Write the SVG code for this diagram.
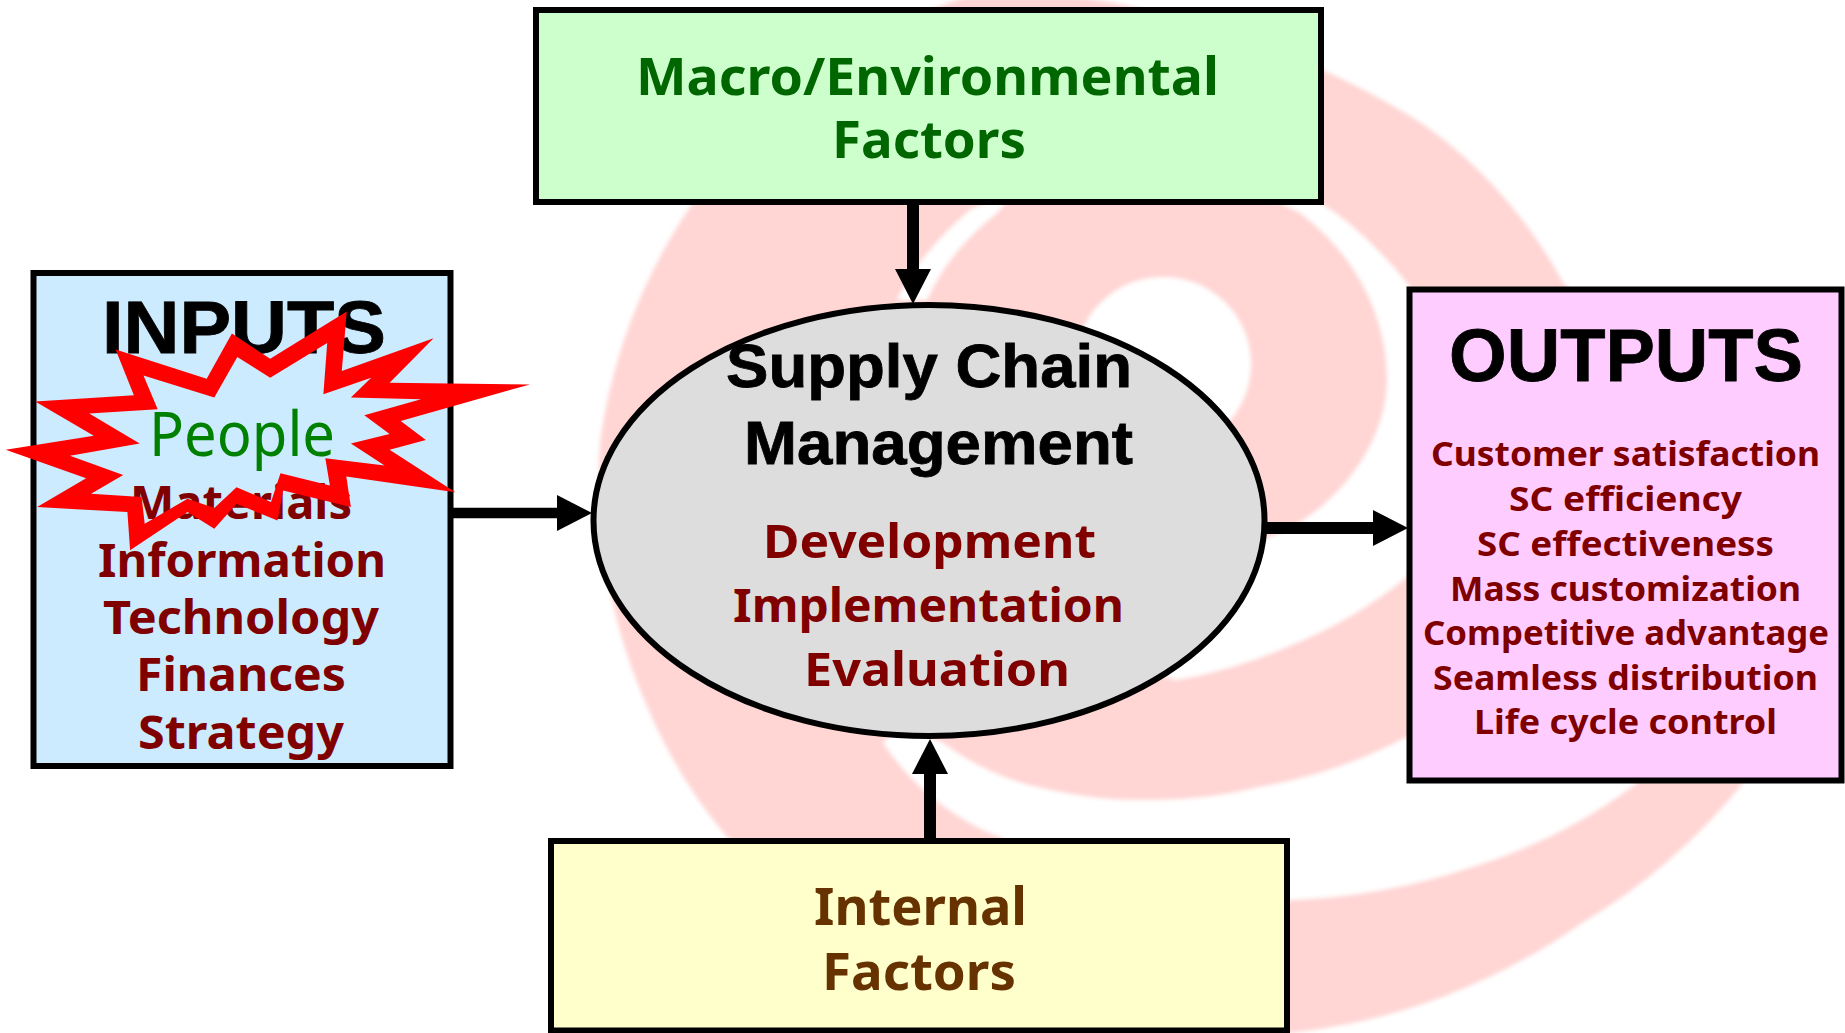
<svg xmlns="http://www.w3.org/2000/svg" width="1845" height="1033" viewBox="0 0 1845 1033">
<style>
.box{stroke:#000;stroke-width:6}
.t{font-family:"Noto Sans","DejaVu Sans",sans-serif;font-weight:700}
.a{font-family:"Liberation Sans",Arial,sans-serif;font-weight:700;fill:#000;stroke:#000;stroke-width:.8}
.m{fill:#800000;font-size:47px}
.o{fill:#800000;font-size:34px}
.conn{stroke:#000;fill:none;marker-end:url(#head)}
</style>
<defs>
<filter id="soft" x="-5%" y="-5%" width="110%" height="110%"><feGaussianBlur stdDeviation="2"/></filter>
<marker id="head" markerUnits="userSpaceOnUse" markerWidth="36" markerHeight="38" viewBox="0 0 36 38" refX="0" refY="19" orient="auto"><path d="M0 1L35 19L0 37Z" fill="#000"/></marker>
</defs>
<rect width="1845" height="1033" fill="#fff"/>
<g id="background-swirl" filter="url(#soft)">
<path fill="#FFD6D4" d="M990 -10C1130 -10 1300 50 1400 110C1470 150 1530 220 1563 283L1780 500L1743 783A600 600 0 0 1 1582 923A620 620 0 0 1 1290 1033L1000 1033L727 837A500 500 0 0 1 650 713A560 560 0 0 1 600 442A560 560 0 0 1 690 207A520 520 0 0 1 990 -10Z"/>
<path fill="#fff" d="M900 725L943 743A260 260 0 0 0 1050 790A420 420 0 0 0 1143 800A460 460 0 0 0 1260 787A500 500 0 0 0 1407 737L1560 640L1700 640L1637 783A520 520 0 0 1 1563 830A560 560 0 0 1 1472 867A640 640 0 0 1 1290 900L1100 885A300 300 0 0 1 1000 837L983 830A260 260 0 0 1 883 743Z"/>
<path fill="#fff" d="M1100 660L1177 680A480 480 0 0 0 1287 647A460 460 0 0 0 1407 577L1440 500L1440 340L1410 287C1385 255 1350 220 1320 203L1160 130L1050 150L997 213C970 235 945 260 927 300L897 300C915 262 945 232 970 210L1100 150L1200 160L1300 213C1350 250 1387 310 1387 380C1387 440 1340 510 1270 537L1100 600Z"/>
<ellipse cx="1163" cy="364" rx="88" ry="87" fill="#fff"/>
</g>
<g id="connectors">
<line class="conn" x1="452" y1="513" x2="557" y2="513" stroke-width="10.5"/>
<line class="conn" x1="913" y1="204" x2="913" y2="269" stroke-width="12"/>
<line class="conn" x1="930" y1="838" x2="930" y2="774" stroke-width="12"/>
<line class="conn" x1="1266" y1="528" x2="1373" y2="528" stroke-width="12"/>
</g>
<g id="macro-factors">
<rect class="box" x="536" y="10" width="785" height="192" fill="#CCFFCC"/>
<text class="t" fill="#006600" font-size="52" x="636" y="95" textLength="583" lengthAdjust="spacingAndGlyphs">Macro/Environmental</text>
<text class="t" fill="#006600" font-size="52" x="832" y="158" textLength="194" lengthAdjust="spacingAndGlyphs">Factors</text>
</g>
<g id="internal-factors">
<rect class="box" x="551" y="841" width="736" height="189.5" fill="#FFFFCC"/>
<text class="t" fill="#663300" font-size="52" x="814" y="925" textLength="213" lengthAdjust="spacingAndGlyphs">Internal</text>
<text class="t" fill="#663300" font-size="52" x="822" y="990" textLength="194" lengthAdjust="spacingAndGlyphs">Factors</text>
</g>
<g id="scm">
<ellipse cx="929" cy="520.5" rx="335.5" ry="215.5" fill="#DDDDDD" stroke="#000" stroke-width="6"/>
<text class="a" font-size="62" x="726" y="387" textLength="406" lengthAdjust="spacingAndGlyphs">Supply Chain</text>
<text class="a" font-size="62" x="744" y="464" textLength="389" lengthAdjust="spacingAndGlyphs">Management</text>
<text class="t m" x="763" y="558" textLength="333" lengthAdjust="spacingAndGlyphs">Development</text>
<text class="t m" x="733" y="622" textLength="391" lengthAdjust="spacingAndGlyphs">Implementation</text>
<text class="t m" x="804" y="686" textLength="266" lengthAdjust="spacingAndGlyphs">Evaluation</text>
</g>
<g id="outputs">
<rect class="box" x="1409.5" y="289.5" width="432" height="491" fill="#FFCCFF"/>
<text class="a" font-size="74" x="1449" y="381" textLength="354" lengthAdjust="spacingAndGlyphs">OUTPUTS</text>
<text class="t o" x="1431" y="466" textLength="389" lengthAdjust="spacingAndGlyphs">Customer satisfaction</text>
<text class="t o" x="1509" y="511" textLength="233" lengthAdjust="spacingAndGlyphs">SC efficiency</text>
<text class="t o" x="1477" y="556" textLength="297" lengthAdjust="spacingAndGlyphs">SC effectiveness</text>
<text class="t o" x="1450" y="601" textLength="351" lengthAdjust="spacingAndGlyphs">Mass customization</text>
<text class="t o" x="1423" y="645" textLength="406" lengthAdjust="spacingAndGlyphs">Competitive advantage</text>
<text class="t o" x="1433" y="690" textLength="385" lengthAdjust="spacingAndGlyphs">Seamless distribution</text>
<text class="t o" x="1474" y="734" textLength="303" lengthAdjust="spacingAndGlyphs">Life cycle control</text>
</g>
<g id="inputs">
<rect class="box" x="33.5" y="273" width="417" height="493" fill="#CCEBFF"/>
<text class="a" font-size="74" x="102" y="353" textLength="284" lengthAdjust="spacingAndGlyphs">INPUTS</text>
<text class="t m" x="130" y="519" textLength="222" lengthAdjust="spacingAndGlyphs">Materials</text>
<text class="t m" x="98" y="577" textLength="288" lengthAdjust="spacingAndGlyphs">Information</text>
<text class="t m" x="103" y="634" textLength="276" lengthAdjust="spacingAndGlyphs">Technology</text>
<text class="t m" x="136" y="691" textLength="210" lengthAdjust="spacingAndGlyphs">Finances</text>
<text class="t m" x="138" y="749" textLength="206" lengthAdjust="spacingAndGlyphs">Strategy</text>
</g>
<g id="people-burst">
<path fill="#FF0000" fill-rule="evenodd" d="M115.6 349.6L206.7 378.7L231.9 333.6L270.2 358.8L346.7 311.4L341.8 371.1L433.6 338.3L389.6 382.7L530 384.4L400.7 420.9L425.9 440.1L389.6 449.7L455.4 492.2L346.3 476.6L350.9 507.1L283.2 490.5L277.5 520.4L236.5 503.8L214.3 528.7L187.5 512.1L130.1 550.2L127.4 512.1L37.1 507.1L86.1 478.2L5.7 449.7L93.8 435.8L35.2 401.6L133.9 395.3Z M143.5 375.4L214.3 397.6L237.3 356.9L270.2 377.7L327.2 342.9L323.4 394.3L371.2 377.7L350.9 397.6L421 399.3L364.3 415.2L389.6 434.1L350.9 443.4L384.6 465.6L325.3 458.3L329.9 485.5L280.5 473.3L271 502.1L236.5 487.2L214.3 508.1L187.5 498.8L144.7 523.7L141.6 497.1L91.1 493.8L123.2 474.9L70 455.7L139.7 443.4L89.2 413.6L157.7 409.3Z"/>
<text fill="#008000" font-family="'Noto Sans','DejaVu Sans',sans-serif" font-size="62" x="149" y="456" textLength="186" lengthAdjust="spacingAndGlyphs">People</text>
</g>
</svg>
